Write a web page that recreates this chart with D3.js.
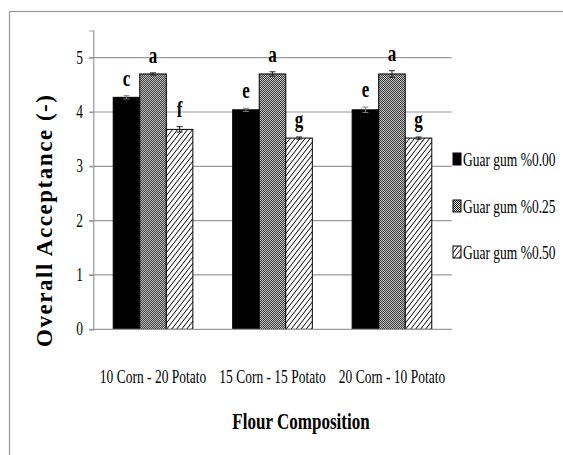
<!DOCTYPE html>
<html>
<head>
<meta charset="utf-8">
<script src="https://cdn.jsdelivr.net/npm/d3@7"></script>
<style>
  html, body { margin: 0; padding: 0; background: #fff; }
  svg { display: block; }
  text { font-family: "Liberation Serif", "Times New Roman", serif; fill: #000; }
</style>
</head>
<body>
<svg id="chart" width="563" height="455"></svg>
<script>
const categories = ["10 Corn - 20 Potato", "15 Corn - 15 Potato", "20 Corn - 10 Potato"];
const seriesNames = ["Guar gum %0.00", "Guar gum %0.25", "Guar gum %0.50"];
const gg000 = [4.27, 4.04, 4.04];
const gg025 = [4.70, 4.70, 4.70];
const gg050 = [3.68, 3.52, 3.52];
const err000 = [0.03, 0.03, 0.05];
const err025 = [0.02, 0.04, 0.06];
const err050 = [0.05, 0.02, 0.02];
const let000 = ["c", "e", "e"];
const let025 = ["a", "a", "a"];
const let050 = ["f", "g", "g"];
const yTicks = [0, 1, 2, 3, 4, 5];

const values = [gg000, gg025, gg050];
const errors = [err000, err025, err050];
const letters = [let000, let025, let050];
const fills = ["#000", "url(#checker)", "url(#hatch)"];

// the whole picture is squeezed horizontally
const SX = 0.71;

const svg = d3.select("#chart");

const defs = svg.append("defs");
const checker = defs.append("pattern")
  .attr("id", "checker")
  .attr("patternUnits", "userSpaceOnUse")
  .attr("width", 2).attr("height", 2);
checker.append("rect").attr("width", 2).attr("height", 2).attr("fill", "#fff");
checker.append("rect").attr("width", 1).attr("height", 1).attr("fill", "#000");
checker.append("rect").attr("x", 1).attr("y", 1).attr("width", 1).attr("height", 1).attr("fill", "#000");

const hatch = defs.append("pattern")
  .attr("id", "hatch")
  .attr("patternUnits", "userSpaceOnUse")
  .attr("width", 5).attr("height", 5)
  .attr("patternTransform", "skewX(-38)");
hatch.append("rect").attr("width", 5).attr("height", 5).attr("fill", "#fff");
hatch.append("line")
  .attr("x1", 0.5).attr("y1", 0).attr("x2", 0.5).attr("y2", 5)
  .attr("stroke", "#000").attr("stroke-width", 1);

// outer frame (only top and left fall inside the picture)
svg.append("rect")
  .attr("x", 9.5).attr("y", 11.5)
  .attr("width", 700).attr("height", 600)
  .attr("fill", "none")
  .attr("stroke", "#9a9a9a")
  .attr("stroke-width", 1.2);

const plotLeft = 93.3, plotRight = 451.7;
const x0 = d3.scaleBand().domain(categories).range([plotLeft, plotRight]);
const gap = x0.bandwidth() * 1.5 / 4.5;
const x1 = d3.scaleBand().domain(d3.range(3)).range([gap / 2, x0.bandwidth() - gap / 2]);
const y = d3.scaleLinear().domain([0, 5.5]).range([329.3, 30.5]);

function squeezed(sel, x, yy) {
  return sel.attr("transform", `translate(${x},${yy}) scale(${SX},1)`);
}

// gridlines
svg.append("g")
  .selectAll("line")
  .data(yTicks.slice(1))
  .join("line")
  .attr("x1", plotLeft - 4).attr("x2", plotRight)
  .attr("y1", d => y(d)).attr("y2", d => y(d))
  .attr("stroke", "#9a9a9a")
  .attr("stroke-width", 1.2);

// y axis
const yAxis = svg.append("g")
  .attr("transform", `translate(${plotLeft},0)`)
  .call(d3.axisLeft(y).tickValues(yTicks).tickSize(4).tickFormat(""));
yAxis.select(".domain").attr("stroke", "#9a9a9a").attr("stroke-width", 1.2);
yAxis.selectAll(".tick line").attr("stroke", "#9a9a9a").attr("stroke-width", 1.2);

svg.append("g")
  .selectAll("text")
  .data(yTicks)
  .join("text")
  .each(function (d) { squeezed(d3.select(this), 83, y(d) + 6); })
  .attr("text-anchor", "end")
  .attr("font-size", 19)
  .text(d => d);

// bars
const groups = svg.append("g")
  .selectAll("g")
  .data(categories)
  .join("g")
  .attr("transform", d => `translate(${x0(d)},0)`);

groups.each(function (cat, ci) {
  const g = d3.select(this);
  for (let s = 0; s < 3; s++) {
    const v = values[s][ci];
    const e = errors[s][ci];
    const bx = x1(s);
    const bw = x1.bandwidth();
    g.append("rect")
      .attr("x", bx).attr("y", y(v))
      .attr("width", bw).attr("height", y(0) - y(v))
      .attr("fill", fills[s])
      .attr("stroke", "#000")
      .attr("stroke-width", 1);

    const cx = bx + bw / 2;
    const ec = s === 0 ? "#7a7a7a" : "#222";
    g.append("line")
      .attr("x1", cx).attr("x2", cx)
      .attr("y1", y(v + e)).attr("y2", y(v - e))
      .attr("stroke", ec).attr("stroke-width", 1);
    [v + e, v - e].forEach(t => {
      g.append("line")
        .attr("x1", cx - 3).attr("x2", cx + 3)
        .attr("y1", y(t)).attr("y2", y(t))
        .attr("stroke", ec).attr("stroke-width", 1);
    });

    squeezed(g.append("text"), cx, y(v + e) - 10)
      .attr("text-anchor", "middle")
      .attr("font-size", 24)
      .attr("font-weight", "bold")
      .text(letters[s][ci]);
  }
});

// x axis baseline
svg.append("line")
  .attr("x1", plotLeft - 4).attr("x2", plotRight)
  .attr("y1", y(0)).attr("y2", y(0))
  .attr("stroke", "#9a9a9a")
  .attr("stroke-width", 1.2);

// category labels
svg.append("g")
  .selectAll("text")
  .data(categories)
  .join("text")
  .each(function (d) { squeezed(d3.select(this), x0(d) + x0.bandwidth() / 2, 383); })
  .attr("text-anchor", "middle")
  .attr("font-size", 19)
  .text(d => d);

// axis titles
squeezed(svg.append("text"), 301, 429)
  .attr("text-anchor", "middle")
  .attr("font-size", 24)
  .attr("font-weight", "bold")
  .text("Flour Composition");

svg.append("text")
  .attr("transform", "translate(52,221) rotate(-90)")
  .attr("text-anchor", "middle")
  .attr("font-size", 23)
  .attr("font-weight", "bold")
  .attr("textLength", 252)
  .attr("lengthAdjust", "spacing")
  .text("Overall Acceptance  (-)");

// legend
const legendY = [166, 213, 259];
const legend = svg.append("g")
  .selectAll("g")
  .data(seriesNames)
  .join("g");
legend.append("rect")
  .attr("x", 453).attr("y", (d, i) => legendY[i] - 13)
  .attr("width", 8).attr("height", 12)
  .attr("fill", (d, i) => fills[i])
  .attr("stroke", "#000")
  .attr("stroke-width", 1);
legend.append("text")
  .each(function (d, i) { squeezed(d3.select(this), 463, legendY[i]); })
  .attr("font-size", 19)
  .text(d => d);
</script>
</body>
</html>
